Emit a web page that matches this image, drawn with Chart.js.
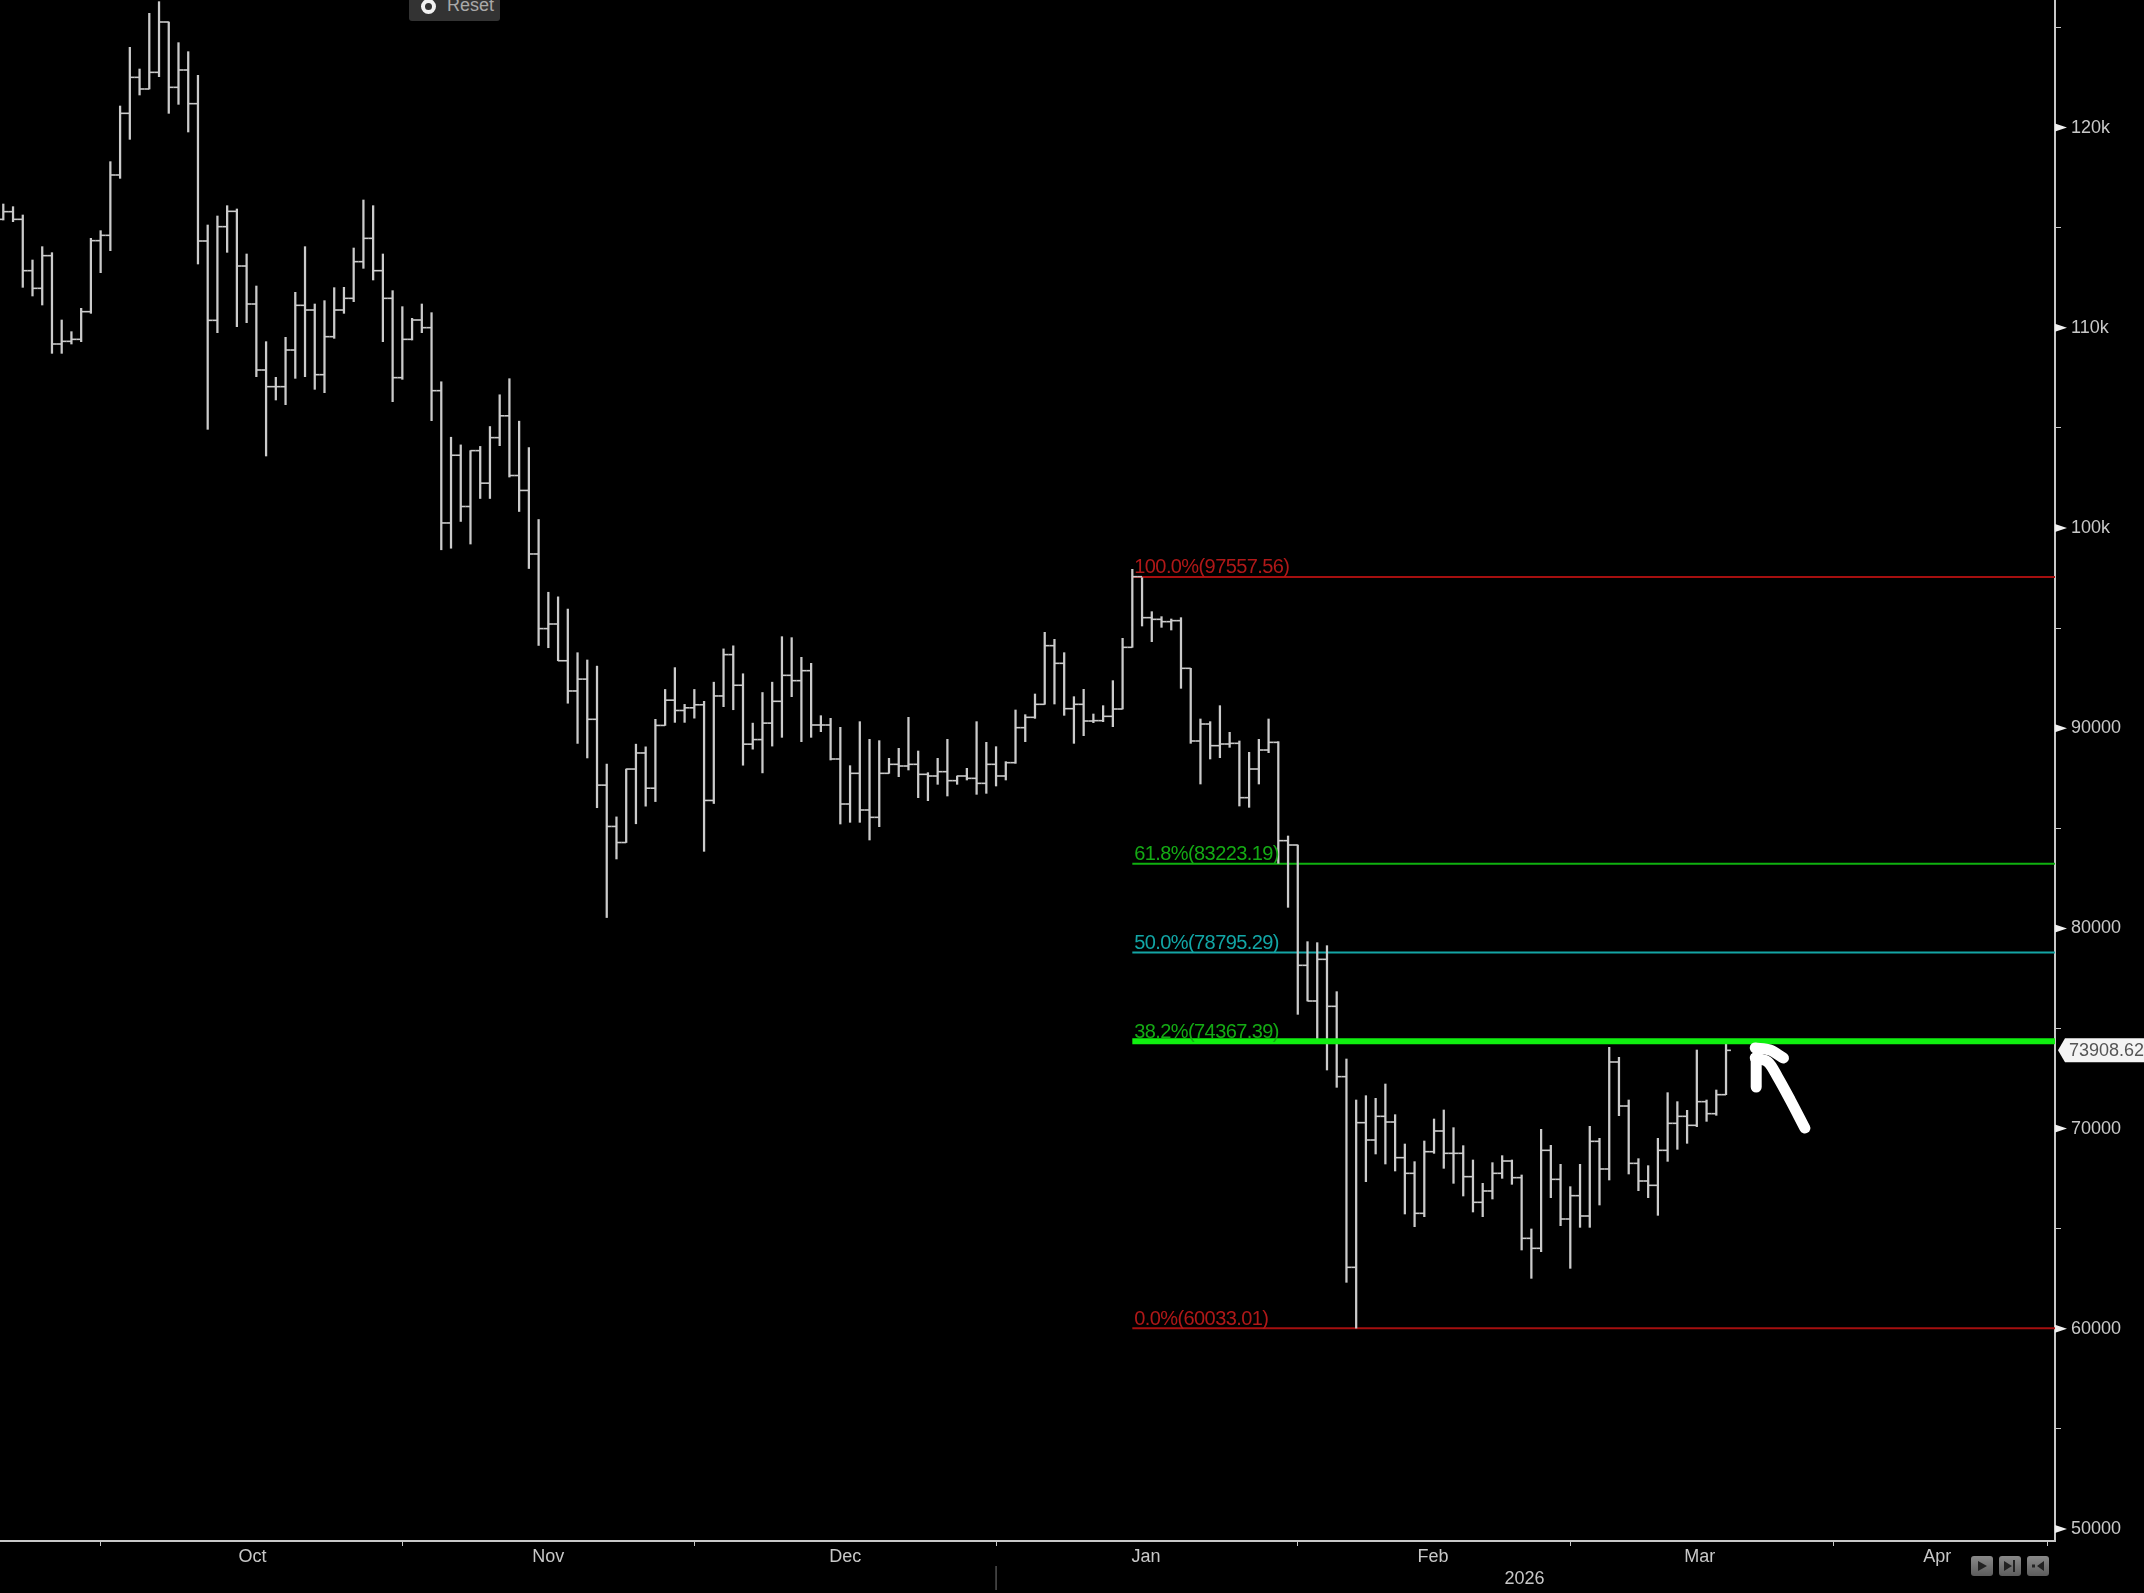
<!DOCTYPE html>
<html>
<head>
<meta charset="utf-8">
<title>Chart</title>
<script src="https://cdn.jsdelivr.net/npm/chart.js@4/dist/chart.umd.min.js"></script>
<style>
  html, body { margin: 0; padding: 0; background: #000; overflow: hidden; }
  #wrap { position: relative; width: 2144px; height: 1593px; }
  #resetBtn { position: absolute; left: 409px; top: 0; width: 91px; height: 21px; background: #333; overflow: hidden;
    border-radius: 0 0 3px 3px; }
  #resetBtn i { position: absolute; left: 12px; top: -1px; width: 7px; height: 7px; border: 4px solid #f2f2f2; border-radius: 50%; }
  #resetBtn span { position: absolute; left: 38px; top: -5px; color: #a9a9a9; font: 18px "Liberation Sans", sans-serif; }
  .navBtn { position: absolute; top: 1556px; width: 22px; height: 20px; border-radius: 3px;
    background: linear-gradient(#8a8a8a, #5c5c5c); }
  .navBtn svg { display: block; }
</style>
</head>
<body>
<div id="wrap">
  <canvas id="priceChart" width="2144" height="1593"></canvas>
  <div id="resetBtn"><i></i><span>Reset</span></div>
  <div class="navBtn" style="left:1971px"><svg width="22" height="20"><path d="M7 5l9 5-9 5z" fill="#222"/></svg></div>
  <div class="navBtn" style="left:1999px"><svg width="22" height="20"><path d="M5 5l8 5-8 5z M14 4h2v12h-2z" fill="#222"/></svg></div>
  <div class="navBtn" style="left:2027px"><svg width="22" height="20"><path d="M17 5v10l-7-5z M5 8.500h3v3h-3z" fill="#222"/></svg></div>
</div>
<script>
// Daily bars (one entry per day)
const highs = [
  116183,116050,115634,113386,114052,113752,110389,109806,110972,114468,
  114851,118298,121078,124009,122926,125707,126290,125274,124242,123792,
  122610,115134,115584,116100,115934,113686,112087,109307,107525,109523,
  111771,114052,111188,111355,112004,112021,113985,116383,116100,113686,
  111854,111055,110472,111188,110755,107304,104533,104150,103864,104074,
  105068,106654,107457,105335,104016,100423,96790,96561,95950,93770,
  93407,93101,88207,85569,87959,89202,89068,90444,91935,93025,
  91189,91935,91342,92298,93961,94114,92719,90253,91782,92298,
  94572,94522,93539,93240,90625,90492,90043,88128,90326,89443,
  89377,88494,88994,90542,88860,87778,88494,89443,87612,87995,
  90326,89293,89077,88328,90909,90675,91708,94788,94438,93772,
  91574,91941,90709,91125,92374,94488,97935,97519,95820,95571,
  95454,95521,92990,90459,90326,91125,89793,89360,88794,89443,
  90459,89327,84615,84165,79337,79287,79137,76839,73476,71428,
  71644,71511,72227,70695,69230,68348,69380,70479,70929,70046,
  69147,68431,67266,68298,68648,68431,67682,64985,69963,69164,
  68215,67099,68215,70113,69513,74059,73559,71428,68498,68148,
  69513,71794,71345,70912,73925,71428,71927,74292
];
const lows = [
  115384,115300,112021,111588,111138,108724,108724,109190,109307,110722,
  112753,113852,117465,119413,121628,121928,122544,120712,121161,119780,
  113186,104928,109756,113769,110056,110256,107559,103596,106393,106160,
  107475,107559,106926,106759,109473,110722,111305,112970,112387,109307,
  106310,107425,109390,109756,105361,98912,98989,100327,99199,101474,
  101474,104112,102545,100824,97976,94133,94019,93369,91247,89240,
  88513,86028,80542,83467,84289,85226,86105,86334,90138,90291,
  90291,90501,83849,86238,91075,90922,88150,88953,87767,89106,
  89543,91574,89327,89543,89826,88411,85214,85298,85298,84415,
  85081,87745,87578,87911,86530,86380,87196,86613,87196,87412,
  86696,86746,87112,87412,88245,89327,90492,91192,91208,90642,
  89243,89626,90276,90326,90076,90958,94039,95104,94322,95038,
  94905,91991,89244,87212,88461,88528,89044,86113,86047,87212,
  88777,83250,81052,75707,76373,74392,72926,72061,62321,60033,
  67349,68731,68231,67882,65734,65101,65600,68764,68015,67266,
  66633,65834,65600,66483,67515,67216,63936,62520,63852,66550,
  65151,63020,65068,65068,66183,67432,70645,67732,66899,66550,
  65667,68364,68964,69264,70096,70362,70662,71694
];
const closes = [
  115800,115417,112853,111971,113603,109190,109323,109423,110805,114352,
  114618,117632,120712,122510,121928,122760,125274,122011,122877,121195,
  114335,110372,115051,115817,113086,111188,107892,107059,107059,108890,
  111122,110888,107658,109556,110888,111471,113303,114468,112853,111471,
  107509,109423,110389,110006,106859,100251,103634,101073,103864,102239,
  104513,105603,102621,101875,98702,94974,95204,93369,91859,92451,
  90444,87156,85092,84289,87959,88762,87003,90138,91400,90884,
  91018,91170,86391,91610,93675,92145,89202,89431,90253,91342,
  92640,92374,92873,90159,90159,88461,86213,87745,85914,85547,
  87745,88195,88111,88195,87695,87612,87828,87379,87612,87495,
  87245,88195,87612,88278,90026,90542,91192,94122,93240,90975,
  91192,90359,90376,90592,90958,94039,97568,95521,95437,95321,
  95371,92990,89360,90209,89127,89210,89244,86529,87961,88910,
  89293,84382,84165,78155,76373,78454,76107,72594,63070,70296,
  69430,70612,70329,68548,67765,65767,68847,69880,68764,68764,
  67599,66317,66883,67765,68381,67549,64518,64019,68914,67465,
  65484,66649,65634,69363,67982,73326,71128,68264,67382,67166,
  68914,70263,70612,70163,71345,70745,71694,73908.62
];
const firstOpen = 115417;
const opens = [firstOpen, ...closes.slice(0, -1)];

// Retracement levels
const fibLabels = ["100.0%(97557.56)", "61.8%(83223.19)", "50.0%(78795.29)", "38.2%(74367.39)", "0.0%(60033.01)"];
const fibValues = [97557.56, 83223.19, 78795.29, 74367.39, 60033.01];
const fibLineColors = ["#a50f0f", "#0fb00f", "#14a5a5", "#10f010", "#a50f0f"];
const fibTextColors = ["#b01818", "#14aa14", "#12a6a6", "#14aa14", "#b01818"];
const fibWidths = [2, 2, 2, 6, 2];
const fibStart = 116;

// Axis ticks
const monthBounds = [10, 41, 71, 102, 133, 161, 188, 210];
const monthCenters = [25.6, 56, 86.5, 117.4, 146.9, 174.3, 198.7];
const monthLabels = ["Oct", "Nov", "Dec", "Jan", "Feb", "Mar", "Apr"];
const yTicks = [50000, 55000, 60000, 65000, 70000, 75000, 80000, 85000, 90000, 95000, 100000, 105000, 110000, 115000, 120000, 125000];
const yearLabel = "2026";
const yearCenter = 156.3;
const yearBound = 102;

// Hand drawn arrow next to the last bar
const arrowShaft = [[185.1, 70030], [183.6, 71429], [182.3, 72577], [181.3, 73327], [180.0, 73527]];
const arrowHeadTop = [[180.0, 74026], [181.5, 73926], [182.9, 73527]];
const arrowHeadLeft = [[180.1, 73527], [180.1, 72078]];

const barColor = "#cbcbcb";
const axisColor = "#c8c8c8";
const font = "Liberation Sans";

const toPoints = list => list.map(p => ({ x: p[0], y: p[1] }));
const xMin = -0.339;
const xMax = 210.8;

function arrowDataset(points, tension) {
  return {
    type: "line", data: toPoints(points), order: 0, borderColor: "#fff", borderWidth: 11,
    borderCapStyle: "round", borderJoinStyle: "round", tension, pointRadius: 0
  };
}

const fibDatasets = fibValues.map((v, i) => ({
  type: "line",
  data: [{ x: fibStart, y: v }, { x: xMax, y: v }],
  borderColor: fibLineColors[i],
  borderWidth: fibWidths[i],
  pointRadius: 0,
  order: fibWidths[i] > 2 ? 1 : 5
}));

// axis labels must not push the plot area away from the canvas edges
function noLabelPadding(axis) {
  axis.paddingLeft = 0;
  axis.paddingRight = 0;
  axis.paddingTop = 0;
  axis.paddingBottom = 0;
}

// Draws the things Chart.js has no option for: tick triangles, fib labels, price tag, year
const decorations = {
  id: "decorations",
  afterDraw(chart) {
    const ctx = chart.ctx;
    const x = chart.scales.x;
    const y = chart.scales.y;
    ctx.save();

    // major ticks on the price axis are small triangles
    ctx.fillStyle = "#f0f0f0";
    yTicks.filter(t => t % 10000 === 0).forEach(t => {
      const py = y.getPixelForValue(t);
      ctx.beginPath();
      ctx.moveTo(x.right, py - 4);
      ctx.lineTo(x.right + 12, py);
      ctx.lineTo(x.right, py + 4);
      ctx.closePath();
      ctx.fill();
    });

    // fib labels sit just above their lines
    ctx.font = "20px '" + font + "'";
    ctx.letterSpacing = "-0.6px";
    ctx.textAlign = "left";
    ctx.textBaseline = "middle";
    fibValues.forEach((v, i) => {
      ctx.fillStyle = fibTextColors[i];
      ctx.fillText(fibLabels[i], x.getPixelForValue(fibStart) + 2, y.getPixelForValue(v) - 9);
    });
    ctx.letterSpacing = "0px";

    // last price tag
    const last = closes[closes.length - 1];
    const py = y.getPixelForValue(last);
    ctx.fillStyle = "#f4f4f4";
    ctx.beginPath();
    ctx.moveTo(x.right + 3, py);
    ctx.lineTo(x.right + 10, py - 12);
    ctx.lineTo(2144, py - 12);
    ctx.lineTo(2144, py + 12);
    ctx.lineTo(x.right + 10, py + 12);
    ctx.closePath();
    ctx.fill();
    ctx.fillStyle = "#555";
    ctx.font = "18px '" + font + "'";
    ctx.fillText(last.toFixed(2), x.right + 14, py + 1);

    // year row under the months
    ctx.fillStyle = axisColor;
    ctx.textAlign = "center";
    ctx.fillText(yearLabel, x.getPixelForValue(yearCenter), 1579);
    ctx.strokeStyle = "#777";
    ctx.lineWidth = 1;
    ctx.beginPath();
    ctx.moveTo(x.getPixelForValue(yearBound), 1566);
    ctx.lineTo(x.getPixelForValue(yearBound), 1590);
    ctx.stroke();
    ctx.restore();
  }
};

new Chart(document.getElementById("priceChart"), {
  type: "bar",
  plugins: [decorations],
  data: {
    datasets: [
      {
        type: "bar",
        data: highs.map((h, i) => ({ x: i, y: [lows[i], h] })),
        backgroundColor: barColor,
        barThickness: 1.6,
        order: 3
      },
      {
        // open tick, to the left of the bar
        type: "line",
        data: opens.map((v, i) => ({ x: i, y: v })),
        showLine: false,
        pointStyle: "dash",
        pointRadius: 4.9,
        pointRotation: 180,
        pointBorderColor: barColor,
        pointBorderWidth: 1.6,
        order: 2
      },
      {
        // close tick, to the right of the bar
        type: "line",
        data: closes.map((v, i) => ({ x: i, y: v })),
        showLine: false,
        pointStyle: "dash",
        pointRadius: 4.9,
        pointBorderColor: barColor,
        pointBorderWidth: 1.6,
        order: 2
      },
      ...fibDatasets,
      arrowDataset(arrowShaft, 0.3),
      arrowDataset(arrowHeadTop, 0.3),
      arrowDataset(arrowHeadLeft, 0)
    ]
  },
  options: {
    responsive: false,
    animation: false,
    events: [],
    layout: { padding: 0, autoPadding: false },
    plugins: { legend: { display: false }, tooltip: { enabled: false } },
    scales: {
      x: {
        type: "linear",
        offset: false,
        min: xMin,
        max: xMax,
        afterBuildTicks(axis) {
          axis.ticks = [...monthBounds, ...monthCenters].sort((a, b) => a - b).map(value => ({ value }));
        },
        afterFit(axis) {
          axis.height = 52;
          noLabelPadding(axis);
        },
        border: { color: axisColor, width: 2 },
        grid: {
          offset: false,
          drawOnChartArea: false,
          tickLength: 5,
          tickWidth: 1,
          tickColor: ctx => (ctx.tick && !monthBounds.includes(ctx.tick.value) ? "transparent" : axisColor)
        },
        ticks: {
          autoSkip: false,
          maxRotation: 0,
          padding: 0,
          color: axisColor,
          font: { family: font, size: 18 },
          callback: value => {
            const i = monthCenters.indexOf(value);
            return i >= 0 ? monthLabels[i] : "";
          }
        }
      },
      y: {
        type: "linear",
        position: "right",
        min: 49400,
        max: 126373,
        afterBuildTicks(axis) { axis.ticks = yTicks.map(value => ({ value })); },
        afterFit(axis) {
          axis.width = 89;
          noLabelPadding(axis);
        },
        border: { color: axisColor, width: 2 },
        grid: {
          drawOnChartArea: false,
          tickLength: 6,
          tickWidth: 1,
          tickColor: axisColor
        },
        ticks: {
          autoSkip: false,
          padding: 10,
          color: axisColor,
          font: { family: font, size: 18 },
          callback: value => {
            if (value % 10000 !== 0) return "";
            return value >= 100000 ? value / 1000 + "k" : String(value);
          }
        }
      }
    }
  }
});
</script>
</body>
</html>
